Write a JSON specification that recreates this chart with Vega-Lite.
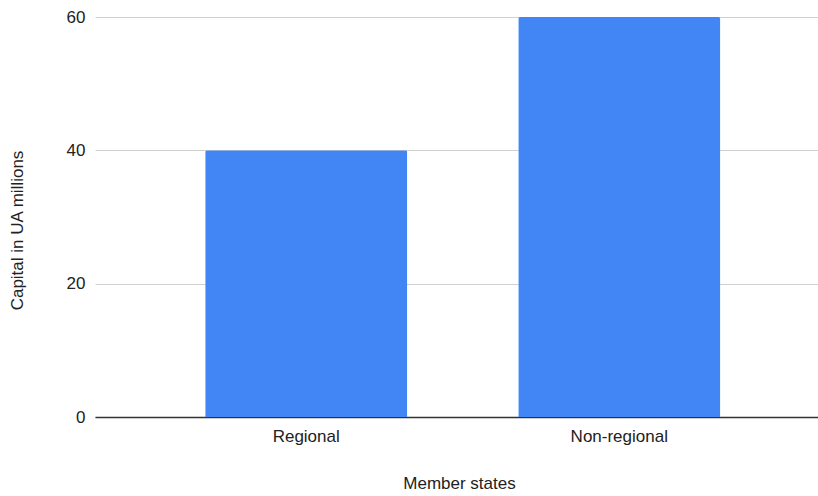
{
  "$schema": "https://vega.github.io/schema/vega-lite/v6.json",
  "width": 723,
  "height": 400,
  "autosize": {"type": "none"},
  "padding": {"left": 95, "top": 17, "right": 0, "bottom": 79},
  "background": "white",
  "config": {
    "font": "Liberation Sans",
    "view": {"stroke": null},
    "axis": {"labelFont": "Liberation Sans", "titleFont": "Liberation Sans", "labelFontSize": 17, "titleFontSize": 17, "titleFontWeight": "normal", "labelColor": "#222", "titleColor": "#222"}
  },
  "data": {"values": [
    {"group": "Regional", "capital": 40},
    {"group": "Non-regional", "capital": 60}
  ]},
  "mark": {"type": "bar", "color": "#4285F4", "cornerRadiusTopLeft": 2, "cornerRadiusTopRight": 2},
  "encoding": {
    "x": {
      "field": "group", "type": "nominal", "sort": null, "title": "Member states",
      "scale": {"paddingInner": 0.3546, "paddingOuter": 0.332, "align": 0.53},
      "axis": {"labelAngle": 0, "ticks": false, "domainColor": "#333", "domainWidth": 1.5, "labelPadding": 11, "titlePadding": 31, "titleX": 364}
    },
    "y": {
      "field": "capital", "type": "quantitative", "title": "Capital in UA millions",
      "scale": {"domain": [0, 60]},
      "axis": {"values": [0, 20, 40, 60], "ticks": false, "domain": false, "gridColor": "#d0d0d0", "labelPadding": 10, "titlePadding": 40, "titleY": 213}
    }
  }
}
